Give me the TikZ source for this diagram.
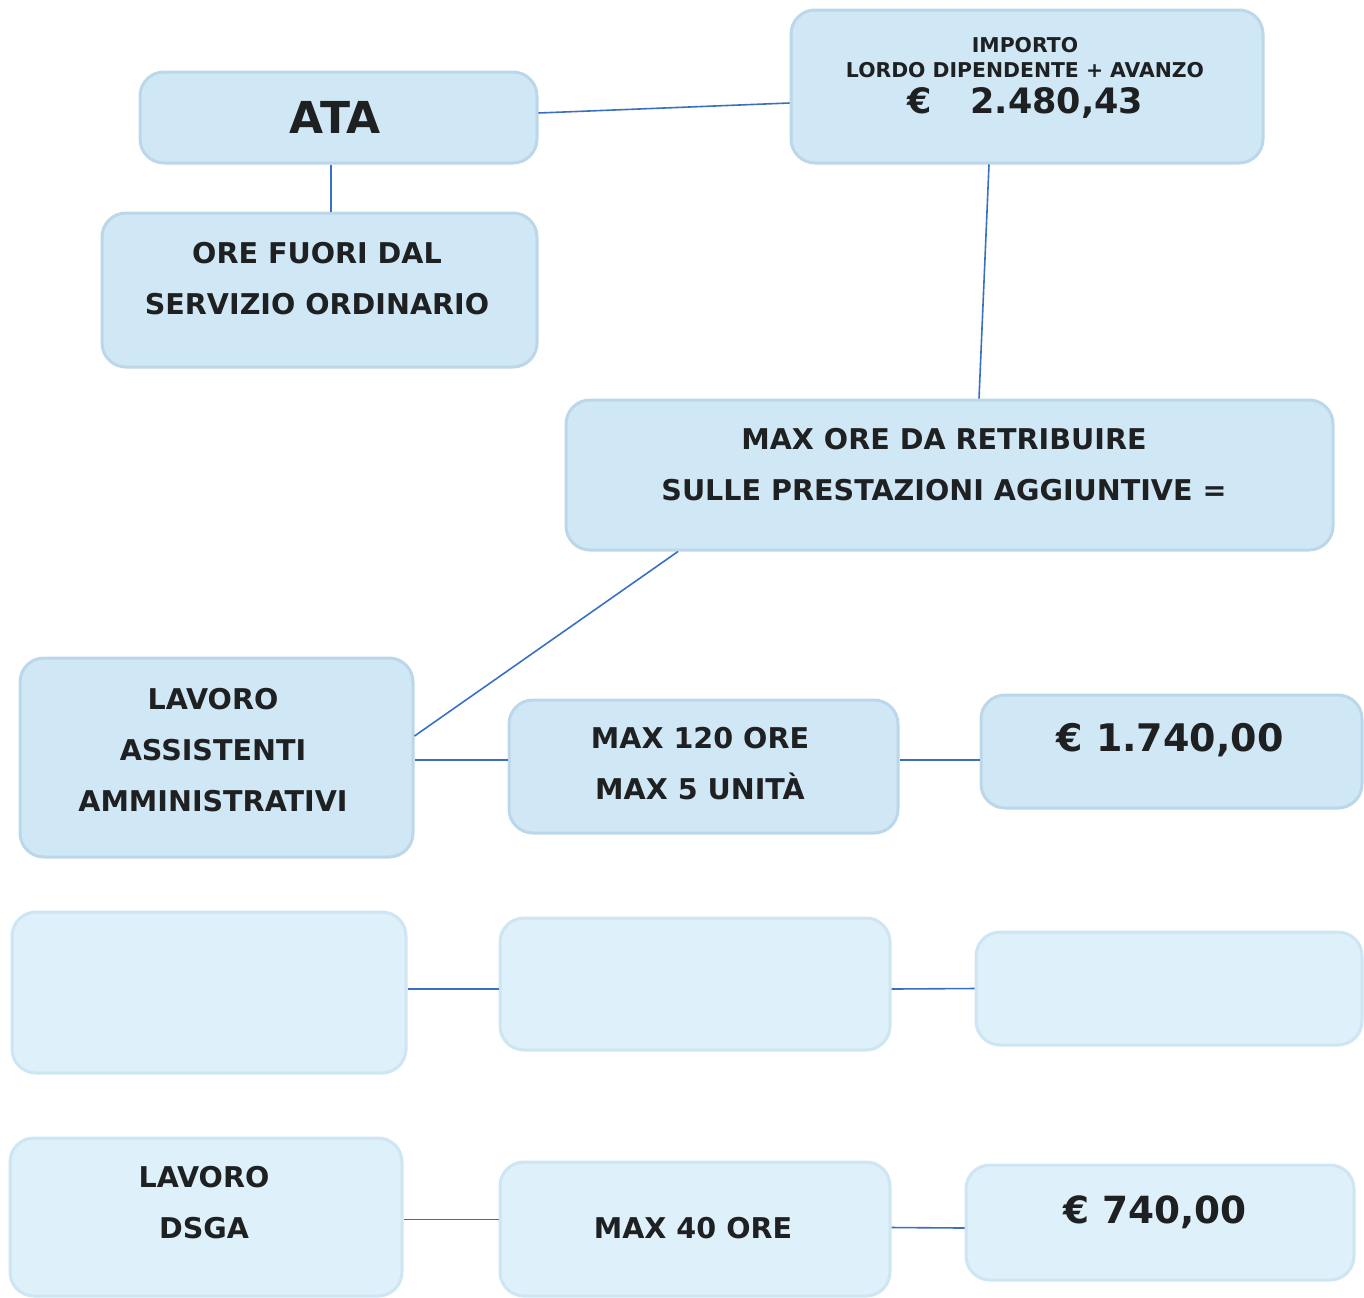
\documentclass[tikz,border=0pt]{standalone}
\usepackage{fontspec}
\setmainfont{DejaVu Sans}
\usetikzlibrary{fit}
\definecolor{boxfill}{RGB}{208,231,245}
\definecolor{boxedge}{RGB}{188,214,234}
\definecolor{boxfillb}{RGB}{222,240,249}
\definecolor{boxedgeb}{RGB}{206,229,243}
\definecolor{linkc}{RGB}{58,112,196}
\definecolor{ink}{RGB}{30,32,34}
\begin{document}
\begin{tikzpicture}[x=0.5pt,y=-0.5pt,
  box/.style={draw=boxedge, line width=1.5pt, fill=boxfill, rounded corners=12pt, inner sep=0pt},
  boxb/.style={box, fill=boxfillb, draw=boxedgeb},
  txt/.style={font=\bfseries\fontsize{14.3}{25.5}\selectfont, text=ink, align=center, inner sep=0pt},
  link/.style={draw=linkc, line width=0.8pt}]
\useasboundingbox (0,0) rectangle (1364,1297);
% boxes
\node[box, fit={(140,72) (537,163)}] (ata) {};
\node[box, fit={(791,10) (1263,163)}] (imp) {};
\node[box, fit={(102,213) (537,367)}] (ore) {};
\node[box, fit={(566,400) (1333,550)}] (maxore) {};
\node[box, fit={(20,658) (413,857)}] (lav) {};
\node[box, fit={(509,700) (898,833)}] (m120) {};
\node[box, fit={(981,695) (1362,808)}] (e1) {};
\node[boxb, fit={(12,912) (406,1073)}] (ea) {};
\node[boxb, fit={(500,918) (890,1050)}] (eb) {};
\node[boxb, fit={(976,932) (1362,1045)}] (ec) {};
\node[boxb, fit={(10,1138) (402,1296)}] (dsga) {};
\node[boxb, fit={(500,1162) (890,1296)}] (m40) {};
\node[boxb, fit={(966,1165) (1354,1280)}] (e2) {};
% texts
\node[txt, font=\bfseries\fontsize{22}{24}\selectfont] (t-ata) at (335,117) {ATA};
\node[txt, font=\bfseries\fontsize{10.2}{12.5}\selectfont] (t-imp) at (1025,57.5) {IMPORTO\\LORDO DIPENDENTE + AVANZO};
\node[txt, font=\bfseries\fontsize{17.5}{20}\selectfont] (t-imp2) at (1025.5,103) {€\hspace{1.1em}2.480,43};
\node[txt] (t-ore) at (317,278.5) {ORE FUORI DAL\\SERVIZIO ORDINARIO};
\node[txt] (t-maxore) at (944,464.5) {MAX ORE DA RETRIBUIRE\\SULLE PRESTAZIONI AGGIUNTIVE =};
\node[txt] (t-lav) at (213,750) {LAVORO\\ASSISTENTI\\AMMINISTRATIVI};
\node[txt] (t-m120) at (700,763.5) {MAX 120 ORE\\MAX 5 UNITÀ};
\node[txt, font=\bfseries\fontsize{19}{22}\selectfont] (t-e1) at (1170,740) {€ 1.740,00};
\node[txt] (t-dsga) at (204,1203) {LAVORO\\DSGA};
\node[txt] (t-m40) at (693,1228) {MAX 40 ORE};
\node[txt, font=\bfseries\fontsize{18.7}{22}\selectfont] (t-e2) at (1155,1212) {€ 740,00};
% connectors
\draw[link] ([yshift=2.25pt]ata.east) -- ([yshift=-8.25pt]imp.west);
\draw[link] ([xshift=-3.75pt]ata.south) -- ([xshift=5.75pt]ore.north);
\draw[link] ([xshift=-19pt]imp.south) -- ([xshift=14.75pt]maxore.north);
\draw[link] ([xshift=-135.75pt]maxore.south) -- ([yshift=10.75pt]lav.east);
\draw[link] ([yshift=-1.25pt]lav.east) -- ([yshift=3.25pt]m120.west);
\draw[link] ([yshift=3.25pt]m120.east) -- ([yshift=-4.25pt]e1.west);
\draw[link] ([yshift=1.75pt]ea.east) -- ([yshift=-2.5pt]eb.west);
\draw[link] ([yshift=-2.5pt]eb.east) -- (ec.west);
\draw[link] ([yshift=-1.25pt]dsga.east) -- ([yshift=4.75pt]m40.west);
\draw[link] ([yshift=0.75pt]m40.east) -- ([yshift=-2.75pt]e2.west);
\end{tikzpicture}
\end{document}
